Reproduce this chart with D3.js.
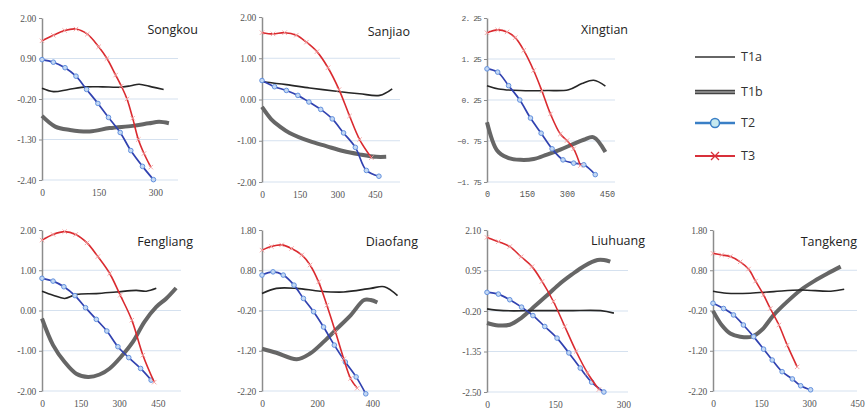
<!DOCTYPE html>
<html>
<head>
<meta charset="utf-8">
<script src="https://cdn.jsdelivr.net/npm/d3@7"></script>
<style>
  body { margin: 0; background: #fff; }
  svg { display: block; }
</style>
</head>
<body>
<script>
// site names, in drawing order
const siteNames = ["Songkou", "Sanjiao", "Xingtian", "Fengliang", "Diaofang", "Liuhuang", "Tangkeng"];
const seriesNames = ["T1a", "T1b", "T2", "T3"];

// axis ticks per site
const songkouY = [2.00, 0.90, -0.20, -1.30, -2.40];
const sanjiaoY = [2.00, 1.00, 0.00, -1.00, -2.00];
const xingtianY = [2.25, 1.25, 0.25, -0.75, -1.75];
const fengliangY = [2.00, 1.00, 0.00, -1.00, -2.00];
const diaofangY = [1.80, 0.80, -0.20, -1.20, -2.20];
const liuhuangY = [2.10, 0.95, -0.20, -1.35, -2.50];
const tangkengY = [1.80, 0.80, -0.20, -1.20, -2.20];

const songkouX = [0, 150, 300];
const sanjiaoX = [0, 150, 300, 450];
const xingtianX = [0, 150, 300, 450];
const fengliangX = [0, 150, 300, 450];
const diaofangX = [0, 200, 400];
const liuhuangX = [0, 150, 300];
const tangkengX = [0, 150, 300, 450];

const xMax = [360, 550, 480, 540, 500, 310, 450];

// series values [x, y]
const songkouT1a = [[0,0.09],[30,0.0],[70,0.06],[118,0.13],[160,0.13],[205,0.12],[235,0.16],[257,0.20],[290,0.13],[322,0.06]];
const songkouT1b = [[0,-0.66],[35,-0.95],[74,-1.04],[126,-1.08],[179,-0.99],[240,-0.93],[283,-0.86],[310,-0.82],[336,-0.86]];
const songkouT2 = [[0,0.87],[30,0.80],[61,0.65],[90,0.42],[118,0.06],[148,-0.32],[176,-0.70],[207,-1.11],[235,-1.60],[266,-2.03],[295,-2.39]];
const songkouT3 = [[0,1.38],[30,1.53],[60,1.66],[90,1.70],[120,1.56],[150,1.22],[172,0.90],[195,0.45],[210,0.15],[225,-0.20],[240,-0.72],[255,-1.30],[270,-1.68],[288,-2.05]];

const sanjiaoT1a = [[0,0.43],[97,0.36],[190,0.28],[296,0.20],[389,0.14],[469,0.10],[519,0.26]];
const sanjiaoT1b = [[0,-0.18],[37,-0.48],[70,-0.65],[110,-0.81],[190,-1.01],[256,-1.13],[323,-1.25],[389,-1.33],[455,-1.39],[495,-1.39]];
const sanjiaoT2 = [[0,0.46],[50,0.31],[97,0.22],[143,0.10],[187,-0.06],[234,-0.24],[280,-0.47],[325,-0.81],[372,-1.16],[416,-1.72],[466,-1.86]];
const sanjiaoT3 = [[0,1.62],[44,1.59],[90,1.62],[137,1.56],[177,1.39],[219,1.16],[263,0.77],[307,0.24],[349,-0.40],[389,-0.97],[436,-1.41]];

const xingtianT1a = [[0,0.60],[44,0.52],[125,0.48],[225,0.48],[306,0.50],[356,0.65],[400,0.73],[444,0.59]];
const xingtianT1b = [[0,-0.29],[38,-0.98],[75,-1.15],[125,-1.21],[175,-1.19],[225,-1.08],[275,-0.96],[325,-0.82],[363,-0.72],[400,-0.66],[444,-1.02]];
const xingtianT2 = [[0,1.01],[40,0.93],[81,0.60],[123,0.25],[163,-0.19],[203,-0.56],[244,-0.94],[285,-1.21],[325,-1.29],[363,-1.33],[406,-1.57]];
const xingtianT3 = [[0,1.89],[40,1.96],[75,1.91],[106,1.77],[138,1.46],[175,0.97],[206,0.47],[238,-0.09],[275,-0.58],[300,-0.74],[325,-0.94],[350,-1.35]];

const fengliangT1a = [[0,0.48],[43,0.38],[88,0.30],[133,0.40],[211,0.42],[288,0.46],[366,0.50],[405,0.48],[444,0.55]];
const fengliangT1b = [[0,-0.20],[43,-0.86],[88,-1.28],[133,-1.57],[179,-1.65],[224,-1.59],[263,-1.44],[307,-1.15],[353,-0.78],[398,-0.28],[444,0.09],[483,0.30],[521,0.56]];
const fengliangT2 = [[0,0.80],[43,0.73],[85,0.59],[128,0.37],[169,0.07],[211,-0.22],[252,-0.51],[295,-0.90],[337,-1.17],[383,-1.44],[424,-1.73]];
const fengliangT3 = [[0,1.75],[43,1.89],[88,1.96],[131,1.89],[175,1.68],[217,1.34],[263,0.92],[304,0.38],[349,-0.24],[392,-1.11],[436,-1.78]];

const diaofangT1a = [[0,0.22],[52,0.35],[126,0.35],[211,0.28],[296,0.26],[394,0.35],[443,0.39],[491,0.17]];
const diaofangT1b = [[0,-1.15],[52,-1.25],[126,-1.41],[174,-1.27],[223,-0.98],[272,-0.65],[321,-0.32],[370,0.06],[394,0.06],[418,0.00]];
const diaofangT2 = [[0,0.68],[40,0.76],[77,0.68],[116,0.43],[150,0.10],[187,-0.23],[223,-0.61],[262,-1.06],[302,-1.48],[341,-1.85],[376,-2.27]];
const diaofangT3 = [[0,1.30],[34,1.39],[71,1.43],[107,1.34],[144,1.18],[174,0.93],[205,0.51],[235,-0.07],[266,-0.73],[296,-1.40],[321,-1.89],[345,-2.13]];

const liuhuangT1a = [[0,-0.14],[36,-0.19],[107,-0.19],[179,-0.19],[250,-0.19],[279,-0.26]];
const liuhuangT1b = [[0,-0.54],[25,-0.61],[50,-0.59],[75,-0.40],[100,-0.12],[129,0.21],[157,0.54],[186,0.83],[214,1.08],[243,1.25],[257,1.25],[271,1.20]];
const liuhuangT2 = [[0,0.33],[25,0.28],[50,0.12],[76,-0.09],[101,-0.33],[127,-0.64],[154,-0.97],[180,-1.39],[205,-1.82],[230,-2.22],[257,-2.50]];
const liuhuangT3 = [[0,1.89],[25,1.77],[50,1.63],[75,1.34],[99,1.06],[121,0.64],[146,0.07],[171,-0.64],[196,-1.35],[221,-1.96],[246,-2.43]];

const tangkengT1a = [[0,0.28],[43,0.23],[116,0.23],[190,0.27],[274,0.31],[368,0.28],[410,0.33]];
const tangkengT1b = [[0,-0.21],[27,-0.56],[54,-0.77],[85,-0.85],[122,-0.85],[153,-0.68],[190,-0.31],[232,0.02],[274,0.31],[316,0.53],[358,0.72],[399,0.89]];
const tangkengT2 = [[0,-0.02],[33,-0.15],[64,-0.31],[95,-0.56],[127,-0.85],[158,-1.16],[185,-1.43],[216,-1.72],[248,-1.90],[274,-2.07],[305,-2.17]];
const tangkengT3 = [[0,1.22],[27,1.18],[54,1.14],[85,1.01],[111,0.83],[133,0.53],[158,0.19],[179,-0.15],[206,-0.56],[232,-1.06],[263,-1.60]];

const width = 867, height = 411;

// plot boxes and title anchors
const boxes = [
  {left: 42,  top: 18,  w: 136, h: 162, tx: 198, ty: 34},
  {left: 262, top: 17,  w: 138, h: 165, tx: 410, ty: 36},
  {left: 487, top: 18,  w: 128, h: 164, tx: 628, ty: 34},
  {left: 42,  top: 230, w: 139, h: 161, tx: 193, ty: 246},
  {left: 262, top: 230, w: 138, h: 161, tx: 418, ty: 246},
  {left: 487, top: 230, w: 141, h: 162, tx: 645, ty: 245},
  {left: 713, top: 230, w: 144, h: 161, tx: 857, ty: 246}
];

const yTicks = [songkouY, sanjiaoY, xingtianY, fengliangY, diaofangY, liuhuangY, tangkengY];
const xTicks = [songkouX, sanjiaoX, xingtianX, fengliangX, diaofangX, liuhuangX, tangkengX];
const series = [
  [songkouT1a, songkouT1b, songkouT2, songkouT3],
  [sanjiaoT1a, sanjiaoT1b, sanjiaoT2, sanjiaoT3],
  [xingtianT1a, xingtianT1b, xingtianT2, xingtianT3],
  [fengliangT1a, fengliangT1b, fengliangT2, fengliangT3],
  [diaofangT1a, diaofangT1b, diaofangT2, diaofangT3],
  [liuhuangT1a, liuhuangT1b, liuhuangT2, liuhuangT3],
  [tangkengT1a, tangkengT1b, tangkengT2, tangkengT3]
];

const svg = d3.select("body").append("svg")
  .attr("width", width)
  .attr("height", height);

const serif = "'Liberation Serif', 'Times New Roman', serif";
const mono = "'Liberation Mono', 'DejaVu Sans Mono', monospace";
const sans = "'Open Sans', 'Noto Sans', sans-serif";

const fmt = d3.format(".2f");

function xMark(g, cx, cy, s) {
  g.append("path")
    .attr("d", `M${cx - s},${cy - s}L${cx + s},${cy + s}M${cx - s},${cy + s}L${cx + s},${cy - s}`);
}

siteNames.forEach((name, i) => {
  const b = boxes[i];
  const yt = yTicks[i];
  const isMono = name === "Xingtian";
  const x = d3.scaleLinear().domain([0, xMax[i]]).range([b.left, b.left + b.w]);
  const y = d3.scaleLinear().domain([d3.min(yt), d3.max(yt)]).range([b.top + b.h, b.top]);

  const g = svg.append("g");

  // gridlines
  g.append("g")
    .selectAll("line")
    .data(yt.slice(1))
    .enter().append("line")
    .attr("x1", b.left).attr("x2", b.left + b.w)
    .attr("y1", d => y(d)).attr("y2", d => y(d))
    .attr("stroke", "#d5e1ef")
    .attr("stroke-width", 1);

  // y axis
  const ya = g.append("g")
    .attr("transform", `translate(${b.left},0)`)
    .call(d3.axisLeft(y)
      .tickValues(yt)
      .tickSize(3)
      .tickSizeOuter(0)
      .tickPadding(3)
      .tickFormat(d => isMono ? fmt(d).replace(".", ". ") : fmt(d).replace("−", "-")));
  ya.select(".domain").attr("stroke", "#8c8c8c").attr("stroke-width", 1.5);
  ya.selectAll(".tick line").attr("stroke", "#8c8c8c");
  ya.selectAll("text")
    .attr("fill", "#555")
    .style("font-family", isMono ? mono : serif)
    .style("font-size", isMono ? "8px" : "9.5px")
    .style("letter-spacing", isMono ? "-0.9px" : "-0.2px");

  // x axis labels
  const xa = g.append("g")
    .attr("transform", `translate(0,${b.top + b.h})`)
    .call(d3.axisBottom(x).tickValues(xTicks[i]).tickSize(0).tickPadding(9).tickFormat(d3.format("d")));
  xa.select(".domain").remove();
  xa.selectAll("text")
    .attr("fill", "#555")
    .style("font-family", isMono ? mono : serif)
    .style("font-size", isMono ? "8.5px" : "9.5px");

  const line = d3.line()
    .x(d => x(d[0]))
    .y(d => y(d[1]))
    .curve(d3.curveCatmullRom.alpha(0.5));

  const [t1a, t1b, t2, t3] = series[i];

  g.append("path").datum(t1b)
    .attr("d", line).attr("fill", "none")
    .attr("stroke", "#666").attr("stroke-width", 4)
    .attr("stroke-linejoin", "round");

  g.append("path").datum(t1a)
    .attr("d", line).attr("fill", "none")
    .attr("stroke", "#262626").attr("stroke-width", 1.6);

  g.append("path").datum(t2)
    .attr("d", line).attr("fill", "none")
    .attr("stroke", "#3142b0").attr("stroke-width", 1.7);

  g.append("g")
    .selectAll("circle")
    .data(t2)
    .enter().append("circle")
    .attr("cx", d => x(d[0]))
    .attr("cy", d => y(d[1]))
    .attr("r", 2.3)
    .attr("fill", "#c4d8f3")
    .attr("stroke", "#6492df")
    .attr("stroke-width", 1);

  g.append("path").datum(t3)
    .attr("d", line).attr("fill", "none")
    .attr("stroke", "#da2a2f").attr("stroke-width", 1.6);

  const xm = g.append("g")
    .attr("stroke", "#f2a0a0")
    .attr("stroke-width", 0.9);
  t3.forEach(d => xMark(xm, x(d[0]), y(d[1]), 2.2));

  // site title
  g.append("text")
    .attr("x", b.tx)
    .attr("y", b.ty)
    .attr("text-anchor", "end")
    .attr("fill", "#222")
    .style("font-family", sans)
    .style("font-size", "12.5px")
    .text(name);
});

// legend
const legendY = [57, 92, 123, 156];
const legend = svg.append("g");
const lx0 = 695, lx1 = 735;

seriesNames.forEach((s, i) => {
  const ly = legendY[i];
  if (s === "T1a") {
    legend.append("line").attr("x1", lx0).attr("x2", lx1).attr("y1", ly).attr("y2", ly)
      .attr("stroke", "#333").attr("stroke-width", 1.5);
  } else if (s === "T1b") {
    legend.append("line").attr("x1", lx0).attr("x2", lx1).attr("y1", ly).attr("y2", ly)
      .attr("stroke", "#444").attr("stroke-width", 4.5);
    legend.append("line").attr("x1", lx0).attr("x2", lx1).attr("y1", ly).attr("y2", ly)
      .attr("stroke", "#c8c8c8").attr("stroke-width", 1);
  } else if (s === "T2") {
    legend.append("line").attr("x1", lx0).attr("x2", lx1).attr("y1", ly).attr("y2", ly)
      .attr("stroke", "#3a7fc6").attr("stroke-width", 2.5);
    legend.append("circle").attr("cx", (lx0 + lx1) / 2).attr("cy", ly).attr("r", 4.5)
      .attr("fill", "#c6e9ef").attr("stroke", "#3a7fc6").attr("stroke-width", 1.5);
  } else {
    legend.append("line").attr("x1", lx0).attr("x2", lx1).attr("y1", ly).attr("y2", ly)
      .attr("stroke", "#d8303a").attr("stroke-width", 2.2);
    const m = legend.append("g").attr("stroke", "#d8303a").attr("stroke-width", 1.3);
    xMark(m, (lx0 + lx1) / 2, ly, 4);
  }
  legend.append("text")
    .attr("x", 741)
    .attr("y", ly)
    .attr("dy", "0.35em")
    .attr("fill", "#333")
    .style("font-family", sans)
    .style("font-size", "12.5px")
    .text(s);
});
</script>
</body>
</html>
